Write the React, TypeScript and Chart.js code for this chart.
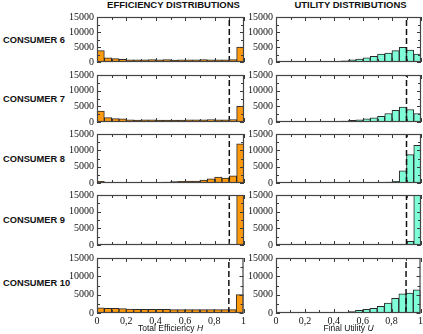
import React, { useEffect, useRef } from 'react';
import { Chart, registerables } from 'chart.js';

Chart.register(...registerables);

// ---------- data ----------
const BIN_CENTERS = [0.025, 0.075, 0.125, 0.175, 0.225, 0.275, 0.325, 0.375, 0.425, 0.475,
  0.525, 0.575, 0.625, 0.675, 0.725, 0.775, 0.825, 0.875, 0.925, 0.975];
const X_TICK_VALUES = [0, 0.1, 0.2, 0.3, 0.4, 0.5, 0.6, 0.7, 0.8, 0.9, 1];
const Y_TICK_VALUES = [0, 2500, 5000, 7500, 10000, 12500, 15000];
const THRESHOLD = 0.9;
const Y_MAX = 15000;

const CONSUMERS = ['CONSUMER 6', 'CONSUMER 7', 'CONSUMER 8', 'CONSUMER 9', 'CONSUMER 10'];

const EFF_6 = [3800, 1400, 1100, 900, 700, 700, 700, 800, 700, 800, 600, 700, 700, 700, 800, 700, 700, 700, 800, 5000];
const EFF_7 = [3500, 1400, 1100, 1000, 700, 600, 700, 700, 600, 600, 600, 600, 700, 700, 700, 800, 700, 700, 800, 5000];
const EFF_8 = [500, 200, 100, 50, 50, 50, 50, 100, 150, 300, 400, 500, 600, 600, 900, 1300, 1800, 1500, 2200, 12000];
const EFF_9 = [100, 100, 50, 100, 150, 150, 250, 300, 200, 100, 50, 50, 50, 50, 50, 50, 50, 50, 100, 16500];
const EFF_10 = [1400, 1300, 1300, 1200, 1100, 1000, 1000, 1000, 1000, 1000, 900, 900, 900, 900, 900, 900, 900, 900, 900, 5000];

const UTIL_6 = [0, 0, 0, 0, 0, 0, 0, 100, 200, 400, 700, 1000, 1400, 1900, 2600, 3000, 3800, 4900, 4000, 2600];
const UTIL_7 = [0, 0, 0, 0, 0, 0, 0, 100, 200, 300, 500, 700, 1000, 1300, 1800, 2700, 3700, 4800, 4000, 2700];
const UTIL_8 = [0, 0, 0, 0, 0, 0, 0, 0, 0, 0, 0, 0, 50, 100, 150, 250, 500, 3700, 8700, 11500];
const UTIL_9 = [0, 0, 0, 0, 0, 0, 0, 0, 0, 0, 0, 0, 0, 0, 0, 0, 50, 150, 1100, 16500];
const UTIL_10 = [0, 0, 0, 0, 0, 0, 0, 50, 100, 200, 400, 700, 1000, 1300, 1800, 2700, 4000, 5200, 5400, 6300];

const EFFICIENCY = [EFF_6, EFF_7, EFF_8, EFF_9, EFF_10];
const UTILITY = [UTIL_6, UTIL_7, UTIL_8, UTIL_9, UTIL_10];

// ---------- layout / style ----------
const ROWS = [
  { top: 15, bottom: 64 },
  { top: 73, bottom: 124 },
  { top: 132, bottom: 185 },
  { top: 193, bottom: 247 },
  { top: 256, bottom: 313 },
];
const COLS = {
  left: { canvasLeft: 60, plotLeft: 97, plotRight: 244, color: '#FF9A0E' },
  right: { canvasLeft: 240, plotLeft: 276, plotRight: 421, color: '#7FFFD8' },
};
const PAD_TOP = 7;
const PAD_RIGHT = 4;
const X_AXIS_H = 14;

const SERIF = "'Liberation Serif', 'DejaVu Serif', serif";
const SANS = "'Liberation Sans', Arial, sans-serif";

const fmtX = (v: number) => {
  if (Math.abs(v - Math.round(v)) < 1e-9) return String(Math.round(v));
  return v.toFixed(1).replace('.', ',');
};

const framePlugin = {
  id: 'frameTicks',
  afterDatasetsDraw(chart: any) {
    const { ctx, chartArea: a, scales } = chart;
    const xs = scales.x;
    const ys = scales.y;
    ctx.save();
    ctx.strokeStyle = '#3a3a3a';
    ctx.lineWidth = 1;
    ctx.beginPath();
    X_TICK_VALUES.forEach((v, i) => {
      const px = Math.round(xs.getPixelForValue(v)) + 0.5;
      const len = i % 2 === 0 ? 4 : 3;
      ctx.moveTo(px, a.bottom);
      ctx.lineTo(px, a.bottom - len);
      ctx.moveTo(px, a.top);
      ctx.lineTo(px, a.top + len);
    });
    Y_TICK_VALUES.forEach((v, i) => {
      const py = Math.round(ys.getPixelForValue(v)) + 0.5;
      const len = i % 2 === 0 ? 4 : 3;
      ctx.moveTo(a.left, py);
      ctx.lineTo(a.left + len, py);
      ctx.moveTo(a.right, py);
      ctx.lineTo(a.right - len, py);
    });
    ctx.stroke();
    ctx.strokeStyle = '#444';
    ctx.lineWidth = 1.2;
    ctx.strokeRect(a.left + 0.5, a.top + 0.5, a.right - a.left - 1, a.bottom - a.top - 1);
    ctx.restore();
  },
};

type PanelProps = { values: number[]; col: 'left' | 'right'; row: number; showX: boolean };

function Panel({ values, col, row, showX }: PanelProps) {
  const ref = useRef<HTMLCanvasElement>(null);
  const c = COLS[col];
  const r = ROWS[row];
  const padBottom = showX ? 2 : 7;
  const width = c.plotRight + PAD_RIGHT - c.canvasLeft;
  const height = PAD_TOP + (r.bottom - r.top) + (showX ? X_AXIS_H : 0) + padBottom;
  const yWidth = c.plotLeft - c.canvasLeft;

  useEffect(() => {
    if (!ref.current) return;
    const chart = new Chart(ref.current, {
      type: 'bar',
      data: {
        datasets: [
          {
            type: 'line',
            data: [{ x: THRESHOLD, y: 0 }, { x: THRESHOLD, y: Y_MAX }],
            borderColor: '#111',
            borderWidth: 1.5,
            borderDash: [6, 3],
            pointRadius: 0,
            fill: false,
            order: 0,
          } as any,
          {
            type: 'bar',
            data: BIN_CENTERS.map((cx, i) => ({ x: cx, y: values[i] })),
            backgroundColor: c.color,
            borderColor: '#2a2a2a',
            borderWidth: 1,
            barPercentage: 1,
            categoryPercentage: 1,
            order: 1,
          } as any,
        ],
      },
      options: {
        animation: false,
        responsive: false,
        events: [],
        plugins: { legend: { display: false }, tooltip: { enabled: false } },
        layout: { padding: { top: PAD_TOP, right: PAD_RIGHT, bottom: padBottom, left: 0 } },
        scales: {
          x: {
            type: 'linear',
            min: 0,
            max: 1,
            offset: false,
            display: showX,
            grid: { display: false, drawTicks: false },
            border: { display: false },
            ticks: {
              stepSize: 0.2,
              autoSkip: false,
              maxRotation: 0,
              padding: 2,
              color: '#111',
              font: { family: SERIF, size: 10 },
              callback: (v: any) => fmtX(Number(v)),
            },
            afterFit: (s: any) => { s.height = showX ? X_AXIS_H : 0; },
          },
          y: {
            min: 0,
            max: Y_MAX,
            grid: { display: false, drawTicks: false },
            border: { display: false },
            ticks: {
              stepSize: 5000,
              padding: 3,
              color: '#111',
              font: { family: SERIF, size: 10 },
              callback: (v: any) => String(v),
            },
            afterFit: (s: any) => { s.width = yWidth; },
          },
        },
      } as any,
      plugins: [framePlugin],
    });
    return () => chart.destroy();
  }, [values, col, row, showX]);

  return (
    <canvas
      ref={ref}
      width={width}
      height={height}
      style={{ position: 'absolute', left: c.canvasLeft, top: r.top - PAD_TOP, width, height }}
    />
  );
}

export default function App() {
  const labelStyle: React.CSSProperties = {
    position: 'absolute',
    fontFamily: SANS,
    fontWeight: 'bold',
    color: '#111',
    whiteSpace: 'nowrap',
    lineHeight: '12px',
  };
  return (
    <div style={{ position: 'absolute', left: 0, top: 0, width: 423, height: 334, overflow: 'hidden', background: '#fff' }}>
      <div style={{ ...labelStyle, fontSize: 9.5, left: COLS.left.plotLeft, width: COLS.left.plotRight - COLS.left.plotLeft + 6, textAlign: 'center', top: -1 }}>
        EFFICIENCY DISTRIBUTIONS
      </div>
      <div style={{ ...labelStyle, fontSize: 9.5, left: COLS.right.plotLeft, width: COLS.right.plotRight - COLS.right.plotLeft + 4, textAlign: 'center', top: -1 }}>
        UTILITY DISTRIBUTIONS
      </div>
      {CONSUMERS.map((name, i) => (
        <div key={name} style={{ ...labelStyle, fontSize: 9.3, left: 3, top: (ROWS[i].top + ROWS[i].bottom) / 2 - 6 - (i === 4 ? 2 : 0) }}>
          {name}
        </div>
      ))}
      {CONSUMERS.map((name, i) => (
        <React.Fragment key={'p' + name}>
          <Panel values={EFFICIENCY[i]} col="left" row={i} showX={i === CONSUMERS.length - 1} />
          <Panel values={UTILITY[i]} col="right" row={i} showX={i === CONSUMERS.length - 1} />
        </React.Fragment>
      ))}
      <div style={{ position: 'absolute', fontFamily: SANS, fontSize: 8.5, color: '#111', left: COLS.left.plotLeft, width: COLS.left.plotRight - COLS.left.plotLeft, textAlign: 'center', top: 323, lineHeight: '10px', whiteSpace: 'nowrap' }}>
        Total Efficiency <i>H</i>
      </div>
      <div style={{ position: 'absolute', fontFamily: SANS, fontSize: 8.5, color: '#111', left: COLS.right.plotLeft, width: COLS.right.plotRight - COLS.right.plotLeft, textAlign: 'center', top: 323, lineHeight: '10px', whiteSpace: 'nowrap' }}>
        Final Utility <i>U</i>
      </div>
    </div>
  );
}
